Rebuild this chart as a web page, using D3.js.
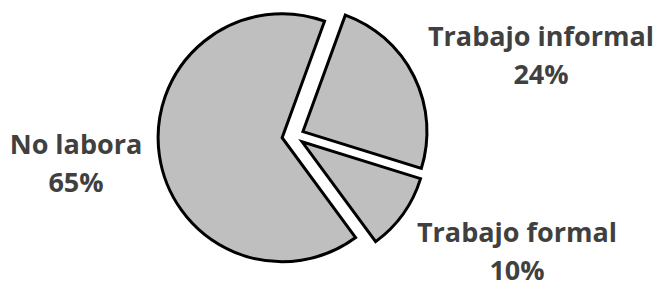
<!DOCTYPE html>
<html>
<head>
<meta charset="utf-8">
<script src="https://cdn.jsdelivr.net/npm/d3@7"></script>
<style>
  body { margin: 0; background: #fff; }
  svg { display: block; }
</style>
</head>
<body>
<div class="canvas"></div>
<script>
const categories = ["Trabajo informal", "Trabajo formal", "No labora"];
const values = [24, 10, 65];
const labels = ["24%", "10%", "65%"];

const width = 654;
const height = 282;
const radius = 124;
const cx = 294;
const cy = 136;
// each slice pulled out from the centre a bit
const explode = [10, 10, 12];
// label anchor (centre, baseline of first line)
const labelPos = [[541, 46], [517, 242], [76, 154]];
const lineGap = 38;

const svg = d3.select(".canvas").append("svg")
  .attr("width", width)
  .attr("height", height);

const pie = d3.pie()
  .sort(null)
  .startAngle(20 * Math.PI / 180)
  .endAngle(20 * Math.PI / 180 + 2 * Math.PI);

const arc = d3.arc().innerRadius(0).outerRadius(radius);

const arcs = pie(values);

const g = svg.append("g").attr("transform", `translate(${cx},${cy})`);

g.selectAll("path")
  .data(arcs)
  .join("path")
  .attr("d", arc)
  .attr("transform", (d, i) => {
    const mid = (d.startAngle + d.endAngle) / 2;
    const dx = Math.sin(mid) * explode[i];
    const dy = -Math.cos(mid) * explode[i];
    return `translate(${dx},${dy})`;
  })
  .attr("fill", "#bfbfbf")
  .attr("stroke", "#000")
  .attr("stroke-width", 3)
  .attr("stroke-linejoin", "miter");

// Labels
const lab = svg.selectAll("text.lab")
  .data(arcs)
  .join("text")
  .attr("class", "lab")
  .attr("text-anchor", "middle")
  .attr("font-family", "'Open Sans', sans-serif")
  .attr("font-weight", "bold")
  .attr("font-size", 27)
  .attr("fill", "#404040");

lab.append("tspan")
  .attr("x", (d, i) => labelPos[i][0])
  .attr("y", (d, i) => labelPos[i][1])
  .text((d, i) => categories[i]);

lab.append("tspan")
  .attr("x", (d, i) => labelPos[i][0])
  .attr("y", (d, i) => labelPos[i][1] + lineGap)
  .text((d, i) => labels[i]);
</script>
</body>
</html>
